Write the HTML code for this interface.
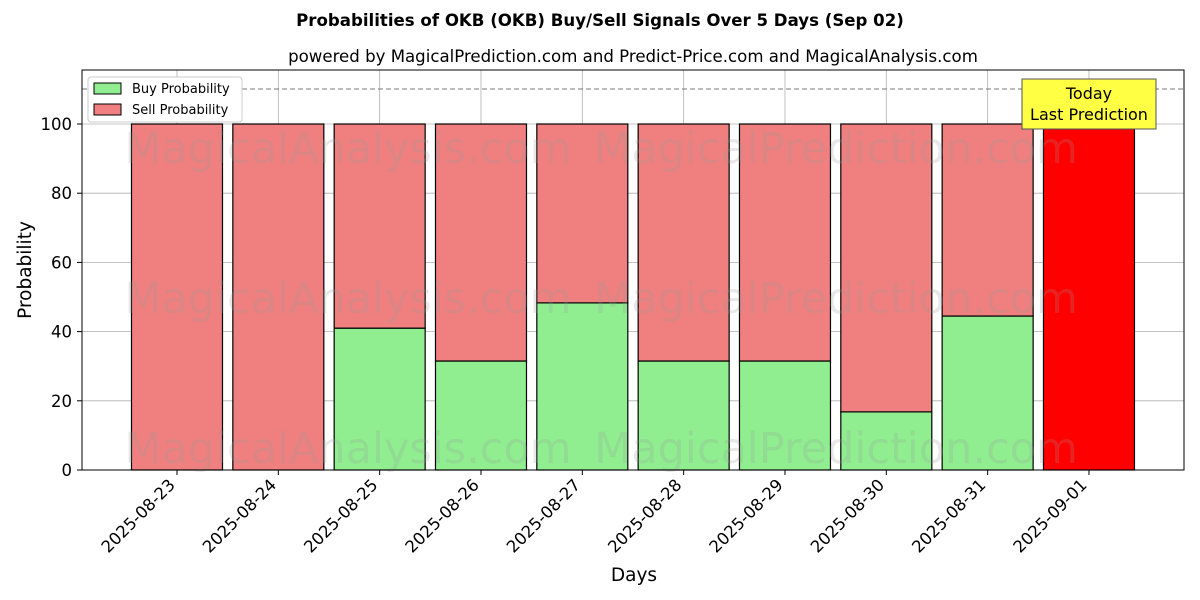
<!DOCTYPE html>
<html><head><meta charset="utf-8"><style>
body{margin:0;background:#fff;}
svg{display:block;font-family:"DejaVu Sans","Liberation Sans",sans-serif;}
</style></head><body>
<svg id="chart" width="1200" height="600">
<text x="600" y="26" text-anchor="middle" font-size="16.6" font-weight="bold">Probabilities of OKB (OKB) Buy/Sell Signals Over 5 Days (Sep 02)</text>
<text x="633" y="62" text-anchor="middle" font-size="16.6">powered by MagicalPrediction.com and Predict-Price.com and MagicalAnalysis.com</text>
<g id="grid"></g>
<g id="bars"></g>
<g id="wm" font-size="43" fill="#999" opacity="0.22">
<text x="348" y="163" text-anchor="middle">MagicalAnalysis.com</text>
<text x="836" y="163" text-anchor="middle">MagicalPrediction.com</text>
<text x="348" y="313" text-anchor="middle">MagicalAnalysis.com</text>
<text x="836" y="313" text-anchor="middle">MagicalPrediction.com</text>
<text x="348" y="463" text-anchor="middle">MagicalAnalysis.com</text>
<text x="836" y="463" text-anchor="middle">MagicalPrediction.com</text>
</g>
<line x1="82" x2="1184" y1="89" y2="89" stroke="#777" stroke-dasharray="5,3"/>
<rect x="82" y="70" width="1102" height="400" fill="none" stroke="#000"/>
<g id="axes"></g>
<text x="634" y="581" text-anchor="middle" font-size="18.5">Days</text>
<text transform="translate(31,270) rotate(-90)" text-anchor="middle" font-size="18.5">Probability</text>
<g>
<rect x="88" y="77" width="154" height="45" fill="#fff" stroke="#ccc" rx="3"/>
<rect x="94" y="83" width="27" height="11" fill="#90ee90" stroke="#000"/>
<text x="132" y="93" font-size="13">Buy Probability</text>
<rect x="94" y="104" width="27" height="11" fill="#f08080" stroke="#000"/>
<text x="132" y="114" font-size="13">Sell Probability</text>
</g>
<g>
<rect x="1022" y="79" width="134" height="50" fill="#ffff44" stroke="#555"/>
<text x="1089" y="99" text-anchor="middle" font-size="16">Today</text>
<text x="1089" y="120" text-anchor="middle" font-size="16">Last Prediction</text>
</g>
</svg>
<script>
const categories=["2025-08-23","2025-08-24","2025-08-25","2025-08-26","2025-08-27","2025-08-28","2025-08-29","2025-08-30","2025-08-31","2025-09-01"];
const buyValues=[0,0,41,31.5,48.3,31.5,31.5,16.8,44.5,0];
const sellValues=[100,100,59,68.5,51.7,68.5,68.5,83.2,55.5,100];
const yTicks=[0,20,40,60,80,100];
const NS="http://www.w3.org/2000/svg";
const xS=i=>177+i*101.33;
const yS=v=>470-v*3.46;
const bw=91;
function mk(tag,at,parent){const e=document.createElementNS(NS,tag);for(const k in at)e.setAttribute(k,at[k]);parent.appendChild(e);return e;}
const grid=document.getElementById('grid'),bars=document.getElementById('bars'),axes=document.getElementById('axes');
yTicks.forEach(t=>{
 const g=mk('line',{x1:82,x2:1184,y1:yS(t),y2:yS(t),stroke:'#b0b0b0','stroke-width':0.8},grid);
 
 
 mk('line',{x1:77,x2:82,y1:yS(t),y2:yS(t),stroke:'#000'},axes);
 const l=mk('text',{x:72,y:yS(t)+6,'text-anchor':'end','font-size':16.5},axes);
 l.textContent=t;
 
 
});
categories.forEach((c,i)=>{
 const x=xS(i);
 const g=mk('line',{x1:x,x2:x,y1:70,y2:470,stroke:'#b0b0b0','stroke-width':0.8},grid);
 
 
 const last=i===categories.length-1;
 if(buyValues[i]>0){
  const b=mk('rect',{x:x-bw/2,y:yS(buyValues[i]),width:bw,height:yS(0)-yS(buyValues[i]),fill:'#90ee90',stroke:'#000','stroke-width':1.2},bars);
  
  
 }
 const s=mk('rect',{x:x-bw/2,y:yS(buyValues[i]+sellValues[i]),width:bw,height:yS(buyValues[i])-yS(buyValues[i]+sellValues[i]),fill:last?'#ff0000':'#f08080',stroke:'#000','stroke-width':1.2},bars);
 
 
 mk('line',{x1:x,x2:x,y1:470,y2:475,stroke:'#000'},axes);
 const l=mk('text',{transform:`translate(${x-1},${486}) rotate(-45)`,'text-anchor':'end','font-size':16.5},axes);
 l.textContent=c;
 
 
});
</script>
</body></html>
